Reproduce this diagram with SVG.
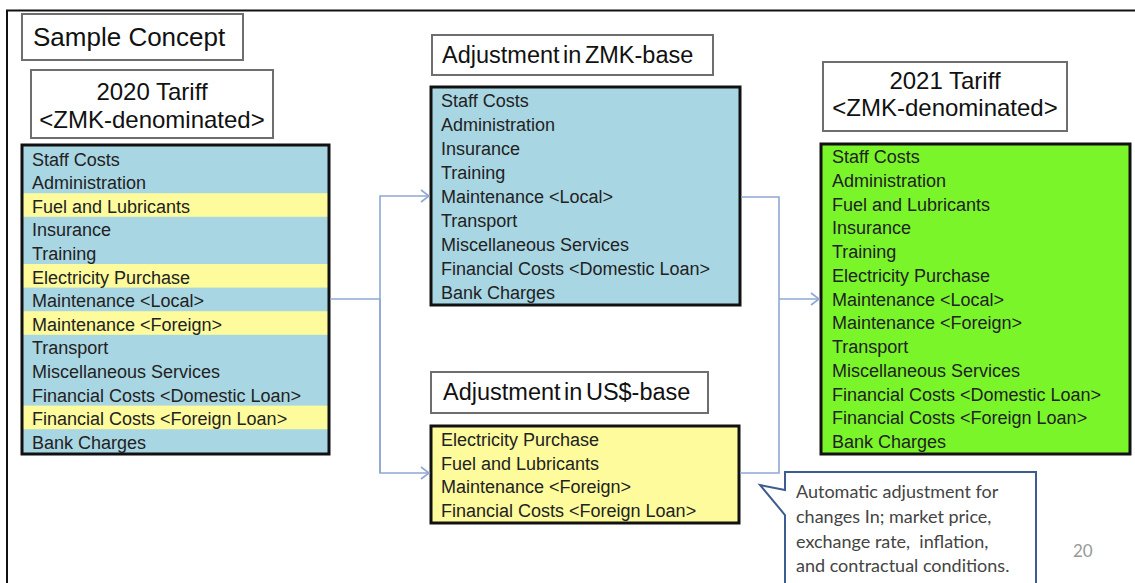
<svg xmlns="http://www.w3.org/2000/svg" width="1135" height="583" viewBox="0 0 1135 583">
<defs>
<style>
.hdr{fill:#fff;stroke:#6e6e6e;stroke-width:2}
.lst{stroke:#111;stroke-width:3}
.ht{font-family:"Liberation Sans",Arial,sans-serif;fill:#111}
.it{font-family:"Liberation Sans",Arial,sans-serif;font-size:18px;fill:#222}
.con{fill:none;stroke:#8ea8d3;stroke-width:1.6}
.call{font-family:Lato,"Open Sans",sans-serif;font-size:18px;fill:#444}
</style>
<marker id="arr" markerWidth="12" markerHeight="14" refX="10" refY="7" orient="auto" markerUnits="userSpaceOnUse">
<path d="M2,1 L10,7 L2,13" fill="none" stroke="#8ea8d3" stroke-width="1.6"/>
</marker>
</defs>
<rect width="1135" height="583" fill="#fff"/>
<g id="frame">
<path d="M7,583 L7,10.5 L1135,10.5" fill="none" stroke="#111" stroke-width="2"/>
</g>
<g id="title">
<rect class="hdr" x="22" y="14" width="221" height="46"/>
<text class="ht" x="33" y="46" font-size="26">Sample Concept</text>
</g>
<g id="tariff2020">
<rect class="hdr" x="31" y="70" width="242" height="68"/>
<text class="ht" x="152" y="100" font-size="24" text-anchor="middle">2020 Tariff</text>
<text class="ht" x="152" y="128" font-size="24" text-anchor="middle">&lt;ZMK-denominated&gt;</text>
<rect x="22" y="145" width="307" height="309" fill="#a9d6e3"/>
<rect x="23" y="193.2" width="305" height="23.6" fill="#fdfb9c"/>
<rect x="23" y="264" width="305" height="23.6" fill="#fdfb9c"/>
<rect x="23" y="311.2" width="305" height="23.6" fill="#fdfb9c"/>
<rect x="23" y="405.6" width="305" height="23.6" fill="#fdfb9c"/>
<rect class="lst" x="22" y="145" width="307" height="309" fill="none"/>
<text class="it" x="32" y="165.5">Staff Costs</text>
<text class="it" x="32" y="189.1">Administration</text>
<text class="it" x="32" y="212.7">Fuel and Lubricants</text>
<text class="it" x="32" y="236.3">Insurance</text>
<text class="it" x="32" y="259.9">Training</text>
<text class="it" x="32" y="283.5">Electricity Purchase</text>
<text class="it" x="32" y="307.1">Maintenance &lt;Local&gt;</text>
<text class="it" x="32" y="330.7">Maintenance &lt;Foreign&gt;</text>
<text class="it" x="32" y="354.3">Transport</text>
<text class="it" x="32" y="377.9">Miscellaneous Services</text>
<text class="it" x="32" y="401.5">Financial Costs &lt;Domestic Loan&gt;</text>
<text class="it" x="32" y="425.1">Financial Costs &lt;Foreign Loan&gt;</text>
<text class="it" x="32" y="448.7">Bank Charges</text>
</g>
<g id="zmkbase">
<rect class="hdr" x="432" y="35" width="281" height="40"/>
<text class="ht" x="442" y="63" font-size="23.5" word-spacing="-3">Adjustment in ZMK-base</text>
<rect class="lst" x="431" y="87" width="309" height="218" fill="#a9d6e3"/>
<text class="it" x="441" y="107">Staff Costs</text>
<text class="it" x="441" y="131">Administration</text>
<text class="it" x="441" y="155">Insurance</text>
<text class="it" x="441" y="179">Training</text>
<text class="it" x="441" y="203">Maintenance &lt;Local&gt;</text>
<text class="it" x="441" y="227">Transport</text>
<text class="it" x="441" y="251">Miscellaneous Services</text>
<text class="it" x="441" y="275">Financial Costs &lt;Domestic Loan&gt;</text>
<text class="it" x="441" y="299">Bank Charges</text>
</g>
<g id="usdbase">
<rect class="hdr" x="431" y="372" width="277" height="41"/>
<text class="ht" x="443" y="400" font-size="23.5" word-spacing="-3">Adjustment in US$-base</text>
<rect class="lst" x="431" y="426" width="308" height="97" fill="#fdfb9c"/>
<text class="it" x="441" y="446">Electricity Purchase</text>
<text class="it" x="441" y="469.5">Fuel and Lubricants</text>
<text class="it" x="441" y="493">Maintenance &lt;Foreign&gt;</text>
<text class="it" x="441" y="516.5">Financial Costs &lt;Foreign Loan&gt;</text>
</g>
<g id="tariff2021">
<rect class="hdr" x="823" y="62" width="244" height="69"/>
<text class="ht" x="945" y="89" font-size="24" text-anchor="middle">2021 Tariff</text>
<text class="ht" x="945" y="116" font-size="24" text-anchor="middle">&lt;ZMK-denominated&gt;</text>
<rect class="lst" x="821" y="144" width="309" height="310" fill="#7af52a"/>
<text class="it" x="832" y="163">Staff Costs</text>
<text class="it" x="832" y="186.75">Administration</text>
<text class="it" x="832" y="210.5">Fuel and Lubricants</text>
<text class="it" x="832" y="234.25">Insurance</text>
<text class="it" x="832" y="258">Training</text>
<text class="it" x="832" y="281.75">Electricity Purchase</text>
<text class="it" x="832" y="305.5">Maintenance &lt;Local&gt;</text>
<text class="it" x="832" y="329.25">Maintenance &lt;Foreign&gt;</text>
<text class="it" x="832" y="353">Transport</text>
<text class="it" x="832" y="376.75">Miscellaneous Services</text>
<text class="it" x="832" y="400.5">Financial Costs &lt;Domestic Loan&gt;</text>
<text class="it" x="832" y="424.25">Financial Costs &lt;Foreign Loan&gt;</text>
<text class="it" x="832" y="448">Bank Charges</text>
</g>
<g id="connectors">
<path class="con" d="M330,299 L380,299"/>
<path class="con" d="M380,473 L380,196 L429,196" marker-end="url(#arr)"/>
<path class="con" d="M380,299 L380,473 L429,473" marker-end="url(#arr)"/>
<path class="con" d="M741,197 L779,197 L779,473 L740,473"/>
<path class="con" d="M779,299 L819,299" marker-end="url(#arr)"/>
</g>
<g id="callout">
<path d="M785,472 L1036,472 L1036,590 L785,590 L785,515 L760,485 L785,490 Z" fill="#fff" stroke="#3d5c8f" stroke-width="2"/>
<text class="call" x="796" y="498">Automatic adjustment for</text>
<text class="call" x="796" y="523">changes In; market price,</text>
<text class="call" x="796" y="548" xml:space="preserve">exchange rate,  inflation,</text>
<text class="call" x="796" y="572">and contractual conditions.</text>
</g>
<g id="pagenum">
<text x="1073" y="557" font-family="Lato,'Open Sans',sans-serif" font-size="17" fill="#999">20</text>
</g>
</svg>
